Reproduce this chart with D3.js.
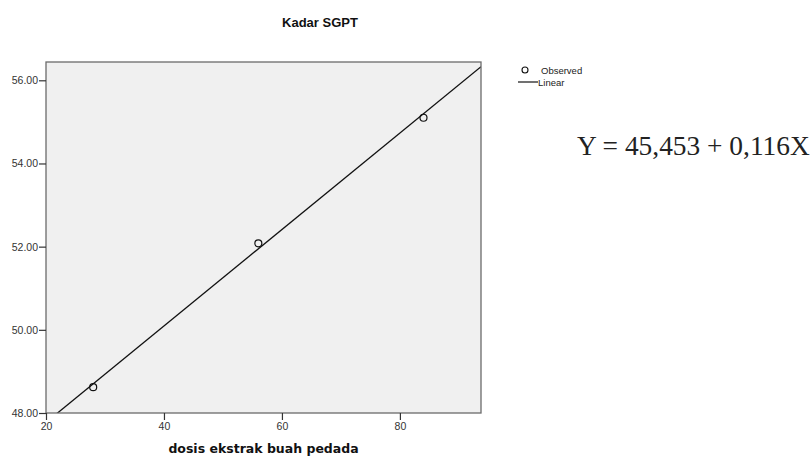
<!DOCTYPE html>
<html>
<head>
<meta charset="utf-8">
<script src="https://cdn.jsdelivr.net/npm/d3@7"></script>
<style>
  body { margin: 0; background: #fff; }
  svg { display: block; }
</style>
</head>
<body>
<div id="chart"></div>
<script>
// observed values
const doses = [28, 56, 84];
const sgpt = [48.62, 52.08, 55.1];
// regression fit shown on the right
const intercept = 45.453;
const slope = 0.116;
const yTicks = [48, 50, 52, 54, 56];
const xTicks = [20, 40, 60, 80];

const width = 812, height = 459;
const plot = { left: 46, right: 481, top: 62, bottom: 413 };

const svg = d3.select('#chart').append('svg')
  .attr('width', width)
  .attr('height', height);

const x = d3.scaleLinear().domain([20, 93.75]).range([plot.left, plot.right]);
const y = d3.scaleLinear().domain([48, 56.44]).range([plot.bottom, plot.top]);

// plot background
svg.append('rect')
  .attr('x', plot.left).attr('y', plot.top)
  .attr('width', plot.right - plot.left)
  .attr('height', plot.bottom - plot.top)
  .attr('fill', '#f0f0f0');

svg.append('clipPath').attr('id', 'clip')
  .append('rect')
  .attr('x', plot.left).attr('y', plot.top)
  .attr('width', plot.right - plot.left)
  .attr('height', plot.bottom - plot.top);

// fit line
const xs = x.domain();
svg.append('line')
  .attr('clip-path', 'url(#clip)')
  .attr('x1', x(xs[0])).attr('y1', y(intercept + slope * xs[0]))
  .attr('x2', x(xs[1])).attr('y2', y(intercept + slope * xs[1]))
  .attr('stroke', '#111')
  .attr('stroke-width', 1.3);

// observed points
svg.selectAll('.pt')
  .data(doses.map((d, i) => ({ x: d, y: sgpt[i] })))
  .enter().append('circle')
  .attr('class', 'pt')
  .attr('cx', d => x(d.x))
  .attr('cy', d => y(d.y))
  .attr('r', 3.5)
  .attr('fill', 'none')
  .attr('stroke', '#111')
  .attr('stroke-width', 1.2);

// frame
svg.append('rect')
  .attr('x', plot.left).attr('y', plot.top)
  .attr('width', plot.right - plot.left)
  .attr('height', plot.bottom - plot.top)
  .attr('fill', 'none')
  .attr('stroke', '#6b6b6b')
  .attr('stroke-width', 1.3);

// axes
const yAxis = d3.axisLeft(y).tickValues(yTicks).tickFormat(d3.format('.2f')).tickSize(7).tickPadding(1);
const xAxis = d3.axisBottom(x).tickValues(xTicks).tickSize(7).tickPadding(3);

const gy = svg.append('g')
  .attr('transform', `translate(${plot.left},0)`)
  .call(yAxis);
const gx = svg.append('g')
  .attr('transform', `translate(0,${plot.bottom})`)
  .call(xAxis);

[gy, gx].forEach(g => {
  g.select('.domain').remove();
  g.selectAll('.tick line').attr('stroke', '#333').attr('stroke-width', 1.2);
  g.selectAll('.tick text')
    .attr('fill', '#333')
    .style('font-family', 'Liberation Sans, Arial, sans-serif')
    .style('font-size', '10.5px');
});

// title
svg.append('text')
  .attr('x', 320).attr('y', 27)
  .attr('text-anchor', 'middle')
  .style('font-family', 'Liberation Sans, Arial, sans-serif')
  .style('font-weight', 'bold')
  .style('font-size', '13px')
  .attr('fill', '#111')
  .text('Kadar SGPT');

// x axis title
svg.append('text')
  .attr('x', (plot.left + plot.right) / 2).attr('y', 453)
  .attr('text-anchor', 'middle')
  .style('font-family', 'DejaVu Sans, Verdana, sans-serif')
  .style('font-weight', 'bold')
  .style('font-size', '12.5px')
  .attr('fill', '#111')
  .text('dosis ekstrak buah pedada');

// legend
const legend = svg.append('g').attr('transform', 'translate(518,0)');
legend.append('circle')
  .attr('cx', 7).attr('cy', 70).attr('r', 3)
  .attr('fill', 'none').attr('stroke', '#111').attr('stroke-width', 1.1);
legend.append('text')
  .attr('x', 23).attr('y', 73.5)
  .style('font-family', 'Liberation Sans, Arial, sans-serif')
  .style('font-size', '9.5px')
  .attr('fill', '#222')
  .text('Observed');
legend.append('line')
  .attr('x1', 0).attr('x2', 20).attr('y1', 82).attr('y2', 82)
  .attr('stroke', '#111').attr('stroke-width', 1.2);
legend.append('text')
  .attr('x', 20).attr('y', 85.5)
  .style('font-family', 'Liberation Sans, Arial, sans-serif')
  .style('font-size', '9.5px')
  .attr('fill', '#222')
  .text('Linear');

// equation
svg.append('text')
  .attr('x', 577).attr('y', 155)
  .style('font-family', 'Liberation Serif, Times New Roman, serif')
  .style('font-size', '27.4px')
  .attr('fill', '#222')
  .text('Y = 45,453 + 0,116X');
</script>
</body>
</html>
